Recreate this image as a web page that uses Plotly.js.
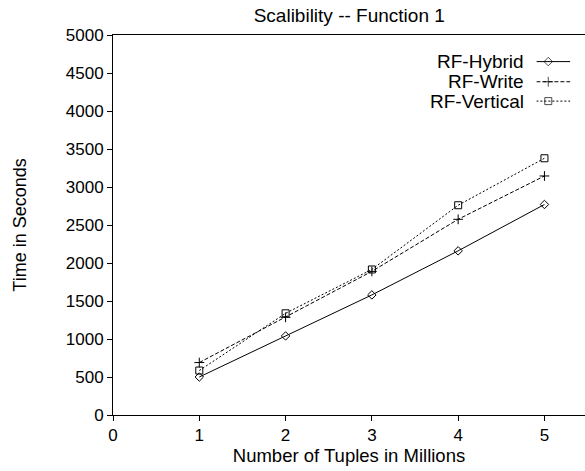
<!DOCTYPE html>
<html><head><meta charset="utf-8">
<script src="https://cdn.plot.ly/plotly-3.0.1.min.js"></script>
<style>html,body{margin:0;padding:0;background:#fff;overflow:hidden}</style>
</head><body><div id="chart" style="width:585px;height:471px"></div>
<script>
const tuples = [1, 2, 3, 4, 5];
const hybrid = [500, 1040, 1580, 2160, 2770];
const write = [690, 1285, 1890, 2575, 3145];
const vertical = [585, 1338, 1915, 2760, 3378];
const seriesNames = ['RF-Hybrid', 'RF-Write', 'RF-Vertical'];
const xTicks = [0, 1, 2, 3, 4, 5];
const yTicks = [0, 500, 1000, 1500, 2000, 2500, 3000, 3500, 4000, 4500, 5000];

const font = 'Liberation Sans, Arial, sans-serif';
const styles = [
  {dash: 'solid', symbol: 'diamond-open', size: 6.5},
  {dash: '4px,2px', symbol: 'cross-thin-open', size: 7},
  {dash: '2px,2px', symbol: 'square-open', size: 7}
];
const seriesData = [hybrid, write, vertical];

const traces = seriesData.map((ys, i) => ({
  x: tuples, y: ys, name: seriesNames[i], type: 'scatter', mode: 'lines+markers',
  line: {color: '#000', width: 1, dash: styles[i].dash},
  marker: {symbol: styles[i].symbol, size: styles[i].size, color: '#000', line: {width: 1, color: '#000'}},
  showlegend: false, xaxis: 'x', yaxis: 'y', cliponaxis: false
}));

// legend samples (line with marker near the left third), drawn on helper axes
const legY = [0.930, 0.877, 0.826];
seriesNames.forEach((n, i) => {
  traces.push({
    x: [0, 0.35, 1], y: [legY[i], legY[i], legY[i]], type: 'scatter', mode: 'lines+markers',
    line: {color: '#000', width: 1, dash: styles[i].dash},
    marker: {symbol: styles[i].symbol, size: [0, styles[i].size, 0], color: '#000', line: {width: 1, color: '#000'}},
    showlegend: false, xaxis: 'x2', yaxis: 'y2', hoverinfo: 'skip', cliponaxis: false
  });
});

const annotations = seriesNames.map((n, i) => ({
  text: n, xref: 'paper', yref: 'y2', x: 0.875, y: legY[i], xanchor: 'right', yanchor: 'middle',
  showarrow: false, font: {family: font, size: 19, color: '#000'}
}));

const layout = {
  width: 585, height: 471,
  margin: {l: 113, r: 0, t: 35, b: 56},
  paper_bgcolor: '#fff', plot_bgcolor: 'rgba(0,0,0,0)',
  font: {family: font, color: '#000'},
  title: {text: 'Scalibility -- Function 1', font: {family: font, size: 19, color: '#000'}, x: 0.597, xanchor: 'center', y: 0.968, yanchor: 'middle'},
  xaxis: {
    range: [0, 5.47], tickvals: xTicks, ticktext: xTicks.map(String),
    showgrid: false, zeroline: false, showline: true, linecolor: '#000', linewidth: 1, mirror: true,
    ticks: 'outside', ticklen: 5, tickcolor: '#000', tickfont: {family: font, size: 17},
    title: {text: 'Number of Tuples in Millions', font: {family: font, size: 18.5}, standoff: 4}
  },
  yaxis: {
    range: [0, 5000], tickvals: yTicks, ticktext: yTicks.map(String),
    showgrid: false, zeroline: false, showline: true, linecolor: '#000', linewidth: 1,
    ticks: 'outside', ticklen: 5, tickcolor: '#000', tickfont: {family: font, size: 17},
    title: {text: 'Time in Seconds', font: {family: font, size: 18}, standoff: 34}
  },
  xaxis2: {domain: [0.897, 0.969], range: [0, 1], visible: false, anchor: 'y2', fixedrange: true},
  yaxis2: {domain: [0, 1], range: [0, 1], visible: false, anchor: 'x2', fixedrange: true},
  annotations: annotations,
  showlegend: false
};

Plotly.newPlot('chart', traces, layout, {staticPlot: true, displayModeBar: false});
</script></body></html>
